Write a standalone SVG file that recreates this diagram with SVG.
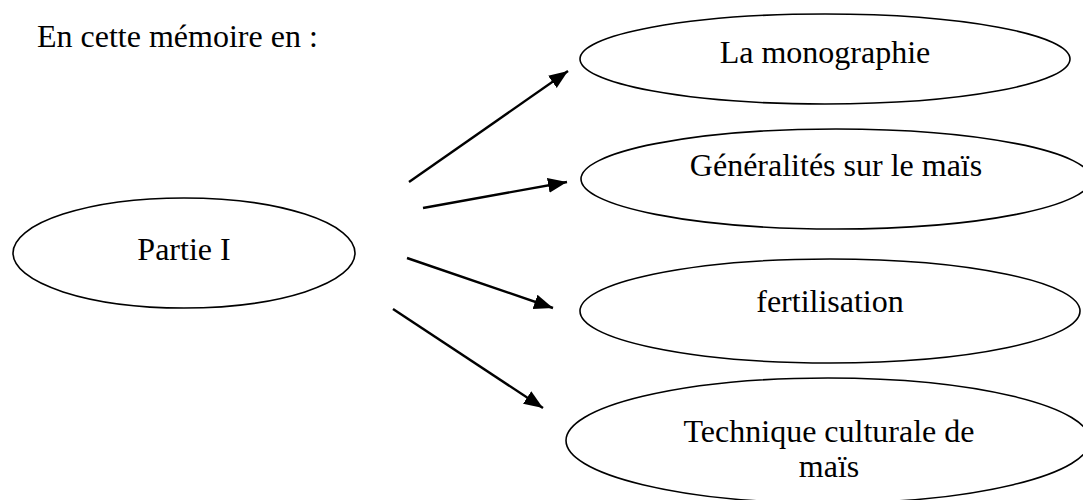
<svg xmlns="http://www.w3.org/2000/svg" width="1083" height="500" viewBox="0 0 1083 500">
<style>
text{font-family:"Liberation Serif","Times New Roman",serif;font-size:32px;fill:#000}
.c{text-anchor:middle}
ellipse{fill:#fff;stroke:#000;stroke-width:1.6}
.a{stroke:#000;stroke-width:2.4;fill:none;marker-end:url(#ah)}
</style>
<defs>
<marker id="ah" markerUnits="userSpaceOnUse" markerWidth="20" markerHeight="16" refX="19" refY="7.5" orient="auto">
<path d="M0,0 L19,7.5 L0,15 z" fill="#000"/>
</marker>
</defs>
<text x="37" y="47">En cette mémoire en :</text>
<g id="partie1">
<ellipse cx="184" cy="253" rx="171" ry="55"/>
<text class="c" x="184" y="260">Partie I</text>
</g>
<g id="monographie">
<ellipse cx="825" cy="59" rx="245" ry="45"/>
<text class="c" x="825" y="63">La monographie</text>
</g>
<g id="generalites">
<ellipse cx="836" cy="179" rx="255" ry="50"/>
<text class="c" x="836" y="176">Généralités sur le maïs</text>
</g>
<g id="fertilisation">
<ellipse cx="830" cy="311" rx="250" ry="52"/>
<text class="c" x="830" y="312">fertilisation</text>
</g>
<g id="technique">
<ellipse cx="828" cy="440.5" rx="262" ry="62.5"/>
<text class="c" x="829" y="442">Technique culturale de</text>
<text class="c" x="829" y="477">maïs</text>
</g>
<g id="connectors">
<line class="a" x1="409" y1="182" x2="568" y2="71"/>
<line class="a" x1="423" y1="208" x2="567" y2="182"/>
<line class="a" x1="407" y1="258" x2="553" y2="308"/>
<line class="a" x1="393" y1="309" x2="543" y2="408"/>
</g>
</svg>
